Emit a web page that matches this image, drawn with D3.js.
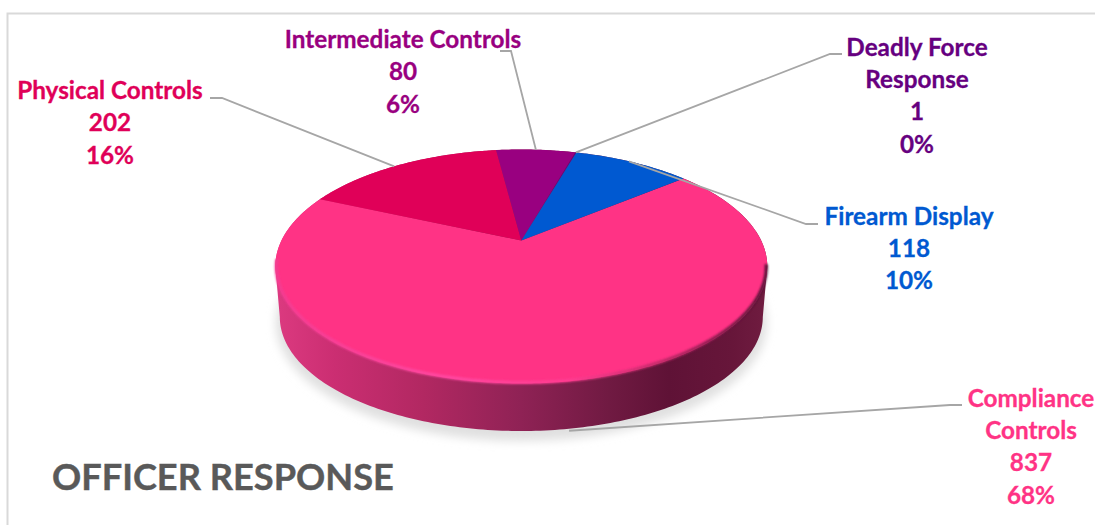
<!DOCTYPE html>
<html>
<head>
<meta charset="utf-8">
<script src="https://cdn.jsdelivr.net/npm/d3@7"></script>
<style>
  html, body { margin: 0; padding: 0; background: #fff; overflow: hidden; }
  svg { display: block; }
  text { font-family: Lato, "Open Sans", sans-serif; font-weight: 700; }
</style>
</head>
<body>
<svg id="chart" width="1095" height="525"></svg>
<script>
// Officer response counts, in clockwise drawing order
const categories = ["Compliance Controls", "Physical Controls", "Intermediate Controls", "Deadly Force Response", "Firearm Display"];
const counts = [837, 202, 80, 1, 118];
const percents = ["68%", "16%", "6%", "0%", "10%"];
const sliceColors = ["#ff3385", "#e00058", "#990080", "#660080", "#0059d1"];
const chartTitle = "OFFICER RESPONSE";

// Label placement: wrapped name lines, centre x, first baseline, leader elbow and tail
const labelLayout = [
  { lines: ["Compliance", "Controls"], x: 1031, y: 406.5, elbow: [950, 405], tail: [962, 405], side: true, nudge: -0.02, drop: 2 },
  { lines: ["Physical Controls"], x: 110, y: 99, elbow: [222, 98], tail: [210, 98], nudge: -0.03 },
  { lines: ["Intermediate Controls"], x: 403, y: 48, elbow: [511, 51], tail: [500, 51] },
  { lines: ["Deadly Force", "Response"], x: 917, y: 55.5, elbow: [830, 54], tail: [842, 54] },
  { lines: ["Firearm Display"], x: 909, y: 224.5, elbow: [806, 224], tail: [818, 224], nudge: -0.02 }
];

const svg = d3.select("#chart");
const defs = svg.append("defs");

// Disc seen in perspective: the top face is an ellipse whose true centre sits above its middle
const face = { cx: 521.3, cy: 266.5, rx: 246, ry: 117 };
const base = { cx: 521.3, cy: 317, rx: 241.5, ry: 114 };
const tilt = 0.222;
const shrink = Math.sqrt(1 - tilt * tilt);

const sx = d3.scaleLinear().domain([-1, 1]).range([face.cx - face.rx, face.cx + face.rx]);
const sy = d3.scaleLinear().domain([-1, 1]).range([face.cy + face.ry, face.cy - face.ry]);

// Map a point of the unit disc (polar, r from centre, angle clockwise from north) to the screen
function project(angle, r = 1) {
  const u = r * Math.sin(angle), v = r * Math.cos(angle);
  const d = 1 + tilt * v;
  return [sx(u * shrink / d), sy((v + tilt) / d)];
}

const pieStart = 50.5 * Math.PI / 180;
const pie = d3.pie().sort(null)
  .startAngle(pieStart)
  .endAngle(pieStart + 2 * Math.PI);
const arcs = pie(counts);

const line = d3.line();
const ellipsePoint = (e, t) => [e.cx + e.rx * Math.cos(t), e.cy + e.ry * Math.sin(t)];
const sampleRange = (a, b, step) => {
  const n = Math.max(2, Math.ceil(Math.abs(b - a) / step));
  return d3.range(n + 1).map(i => a + (b - a) * i / n);
};

// Gradients and blurs for the extruded edge
const sideGrad = defs.append("linearGradient").attr("id", "sideShade")
  .attr("gradientUnits", "userSpaceOnUse").attr("x1", 275).attr("x2", 767).attr("y1", 0).attr("y2", 0);
[[0, "#dc3a80"], [0.12, "#cb2e72"], [0.3, "#b22862"], [0.5, "#8f2255"], [0.68, "#701a42"],
 [0.8, "#5f1236"], [0.93, "#67163a"], [1, "#701c40"]]
  .forEach(([o, c]) => sideGrad.append("stop").attr("offset", o).attr("stop-color", c));

const rimGrad = defs.append("linearGradient").attr("id", "rimShade")
  .attr("gradientUnits", "userSpaceOnUse").attr("x1", 275).attr("x2", 767).attr("y1", 0).attr("y2", 0);
[[0, "#f23d92"], [0.35, "#ff4aa4"], [0.6, "#ff3d92"], [0.78, "#c02a68"], [1, "#4a1030"]]
  .forEach(([o, c]) => rimGrad.append("stop").attr("offset", o).attr("stop-color", c));

defs.append("filter").attr("id", "softShadow").attr("x", "-10%").attr("y", "-10%").attr("width", "120%").attr("height", "120%")
  .append("feGaussianBlur").attr("stdDeviation", 5);
defs.append("filter").attr("id", "softRim").attr("x", "-5%").attr("y", "-5%").attr("width", "110%").attr("height", "110%")
  .append("feGaussianBlur").attr("stdDeviation", 0.9);

// Frame of the chart area
svg.append("path")
  .attr("d", "M7.5,525V13.5H1095")
  .attr("fill", "none").attr("stroke", "#d9d9d9").attr("stroke-width", 2);

// Soft ground shadow
svg.append("ellipse")
  .attr("cx", base.cx).attr("cy", base.cy + 6).attr("rx", base.rx + 4).attr("ry", base.ry + 4)
  .attr("fill", "#e0e0e0").attr("filter", "url(#softShadow)");

// Edge of the disc
const lowerBase = sampleRange(Math.PI, 0, 0.02).map(t => ellipsePoint(base, t));
const upperFace = sampleRange(0, -Math.PI, 0.02).map(t => ellipsePoint(face, t));
svg.append("path")
  .attr("d", line([...lowerBase, ...upperFace]) + "Z")
  .attr("fill", "url(#sideShade)");

// Top face slices, drawn from the pie layout
svg.append("g").selectAll("path").data(arcs).join("path")
  .attr("d", d => {
    const rim = sampleRange(d.startAngle, d.endAngle, 0.01).map(a => project(a));
    return line([project(0, 0), ...rim]) + "Z";
  })
  .attr("fill", (d, i) => sliceColors[i]);

// Bevel along the front of the top face
const bevel = sampleRange(Math.PI * 1.02, -0.02, 0.02).map(t => ellipsePoint({ ...face, rx: face.rx - 1, ry: face.ry - 1 }, t));
svg.append("path")
  .attr("d", line(bevel))
  .attr("fill", "none").attr("stroke", "url(#rimShade)").attr("stroke-width", 3)
  .attr("filter", "url(#softRim)");

// Leader lines run from each slice's mid angle to its label
const leaderAnchor = (d, l) => {
  const p = project((d.startAngle + d.endAngle) / 2 + (l.nudge || 0));
  return l.side ? [p[0], p[1] + (base.cy + base.ry - face.cy - face.ry) + (l.drop || 0)] : p;
};
svg.append("g").selectAll("path").data(arcs).join("path")
  .attr("d", (d, i) => line([leaderAnchor(d, labelLayout[i]), labelLayout[i].elbow, labelLayout[i].tail]))
  .attr("fill", "none").attr("stroke", "#a6a6a6").attr("stroke-width", 1.8);

// Data labels: name lines, count, percentage
const linePitch = 32.4;
const labels = svg.append("g").selectAll("text").data(arcs).join("text")
  .attr("text-anchor", "middle")
  .attr("font-size", 24.3)
  .attr("fill", (d, i) => sliceColors[i])
  .attr("stroke", (d, i) => sliceColors[i])
  .attr("stroke-width", 0.3);
labels.each(function (d, i) {
  const l = labelLayout[i];
  const rows = [...l.lines, String(counts[i]), percents[i]];
  d3.select(this).selectAll("tspan").data(rows).join("tspan")
    .attr("x", l.x)
    .attr("y", (r, j) => l.y + j * linePitch)
    .text(r => r);
});

// Chart title
svg.append("text")
  .attr("x", 52).attr("y", 490)
  .attr("font-size", 36.2).attr("fill", "#595959")
  .attr("stroke", "#595959").attr("stroke-width", 0.4)
  .text(chartTitle);
</script>
</body>
</html>
